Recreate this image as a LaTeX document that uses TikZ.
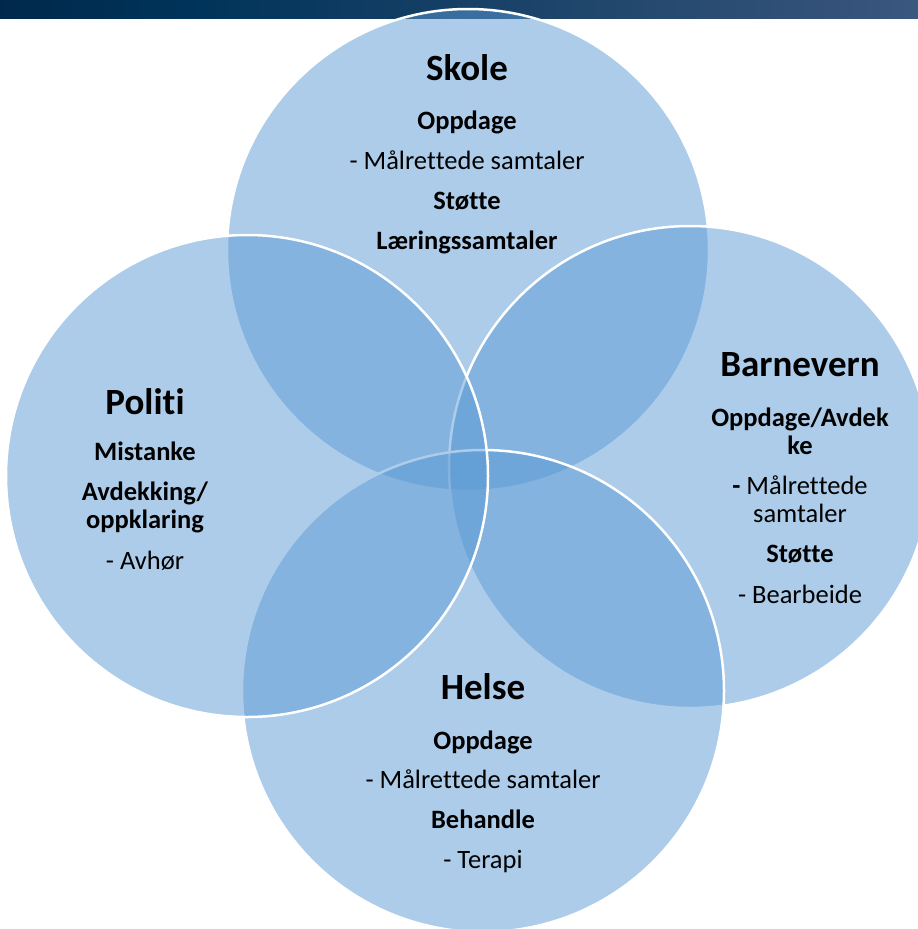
\documentclass[tikz,border=0pt]{standalone}
\usepackage{fontspec}
\setmainfont{Carlito}[Ligatures={NoCommon,NoContextual,NoRare}, Contextuals=NoAlternate]
\newcommand\nolig{\kern0pt }
\definecolor{vennblue}{RGB}{91,155,213}
\pgfdeclarehorizontalshading{hdr}{100bp}{rgb(0bp)=(0,0.055,0.17); rgb(35bp)=(0,0.2,0.35); rgb(70bp)=(0.2,0.32,0.47); rgb(100bp)=(0.38,0.48,0.63)}
\begin{document}
\begin{tikzpicture}[x=1pt,y=-1pt]
\tikzset{
  venn/.style={circle, minimum size=482pt, inner sep=0pt, fill=vennblue, fill opacity=0.5, draw=white, draw opacity=1, line width=2.5pt},
  ttl/.style={font=\fontsize{37}{40}\selectfont\bfseries, text=black, anchor=base, inner sep=0pt},
  hb/.style={font=\fontsize{26.5}{28}\selectfont\bfseries, text=black, anchor=base, inner sep=0pt},
  hr/.style={font=\fontsize{26.5}{28}\selectfont, text=black, anchor=base, inner sep=0pt}
}
\fill[white] (0,0) rectangle (918,929);
\useasboundingbox (0,0) rectangle (918,929);
\shade[shading=hdr] (0,0) rectangle (918,18);
% circles in drawing order
\node[venn] (skole) at (468,250) {};
\node[venn] (barnevern) at (690,467) {};
\node[venn] (helse) at (483,691) {};
\node[venn] (politi) at (247,476) {};
% Skole
\node[ttl] (sk0) at (467,80) {Skole};
\node[hb] (sk1) at (467,129) {Oppdage};
\node[hr] (sk2) at (467,169) {- Målret\nolig tede samtaler};
\node[hb] (sk3) at (467,209) {Støt\nolig te};
\node[hb] (sk4) at (467,249) {Læringssamtaler};
% Politi
\node[ttl] (po0) at (145,414) {Polit\nolig i};
\node[hb] (po1) at (145,460) {Mistanke};
\node[hb] (po2) at (145,500) {Avdekking/};
\node[hb] (po3) at (145,528) {oppklaring};
\node[hr] (po4) at (145,569) {- Avhør};
% Barnevern
\node[ttl] (ba0) at (800,376) {Barnevern};
\node[hb] (ba1) at (800,426) {Oppdage/Avdek};
\node[hb] (ba2) at (800,454) {ke};
\node[hr] (ba3) at (800,494) {{\bfseries -} Målret\nolig tede};
\node[hr] (ba4) at (800,522) {samtaler};
\node[hb] (ba5) at (800,562) {Støt\nolig te};
\node[hr] (ba6) at (800,603) {- Bearbeide};
% Helse
\node[ttl] (he0) at (483,699) {Helse};
\node[hb] (he1) at (483,749) {Oppdage};
\node[hr] (he2) at (483,788) {- Målret\nolig tede samtaler};
\node[hb] (he3) at (483,828) {Behandle};
\node[hr] (he4) at (483,868) {- Terapi};
\end{tikzpicture}
\end{document}
